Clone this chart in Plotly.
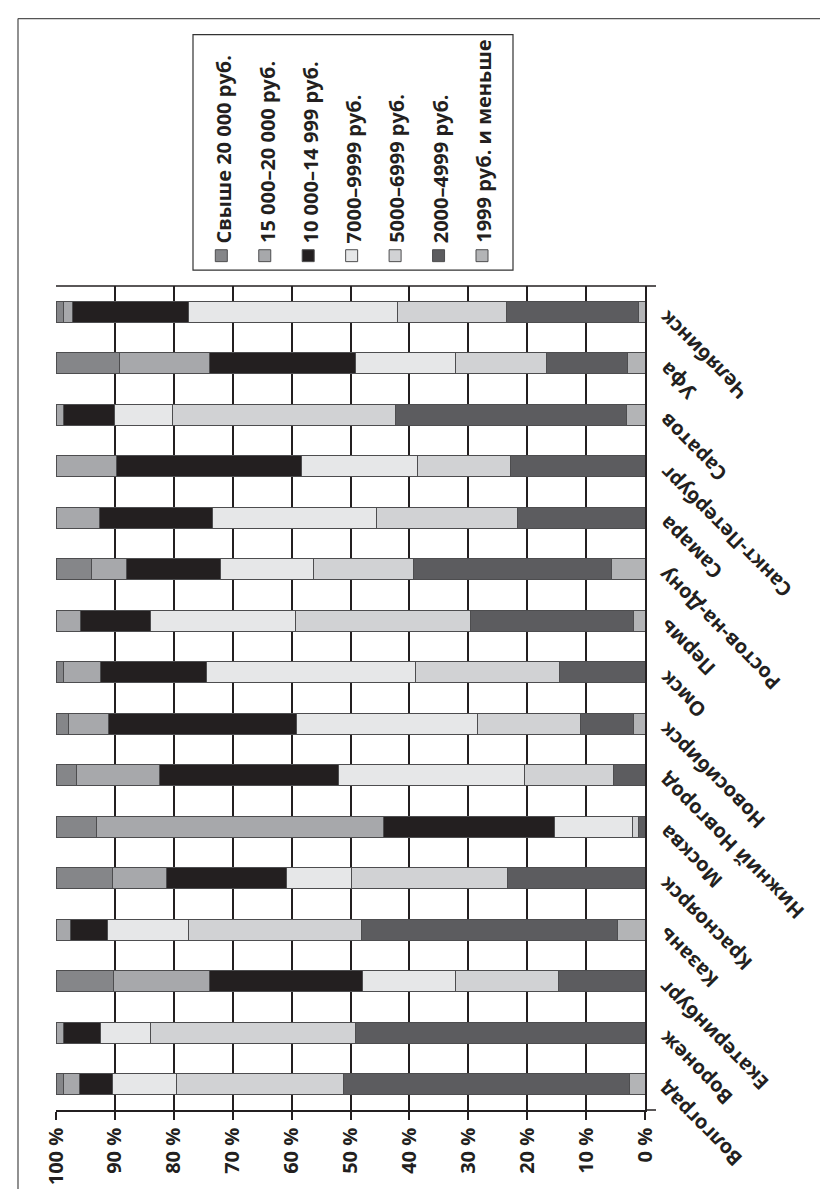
import plotly.graph_objects as go

# ---------------- data ----------------
cities = ["Волгоград", "Воронеж", "Екатеринбург", "Казань", "Красноярск", "Москва",
          "Нижний Новгород", "Новосибирск", "Омск", "Пермь", "Ростов-на-Дону", "Самара",
          "Санкт-Петербург", "Саратов", "Уфа", "Челябинск"]

series_names = ["1999 руб. и меньше", "2000–4999 руб.", "5000–6999 руб.", "7000–9999 руб.",
                "10 000–14 999 руб.", "15 000–20 000 руб.", "Свыше 20 000 руб."]

v_upto_1999 = [2.6, 0, 0, 4.7, 0, 0, 0, 2.0, 0, 2.0, 5.7, 0, 0, 3.2, 2.9, 1.1]
v_2000_4999 = [48.6, 49.2, 14.7, 43.4, 23.3, 1.1, 5.4, 8.9, 14.6, 27.7, 33.6, 21.7, 22.9, 39.1, 13.9, 22.4]
v_5000_6999 = [28.4, 34.8, 17.4, 29.4, 26.6, 1.0, 15.1, 17.6, 24.3, 29.7, 16.9, 23.9, 15.7, 38.0, 15.3, 18.5]
v_7000_9999 = [10.8, 8.5, 15.9, 13.8, 11.0, 13.3, 31.5, 30.6, 35.5, 24.5, 15.9, 27.8, 19.8, 9.8, 17.1, 35.5]
v_10000_14999 = [5.6, 6.3, 26.0, 6.3, 20.4, 29.0, 30.4, 32.0, 18.1, 11.9, 16.0, 19.2, 31.4, 8.6, 24.7, 19.7]
v_15000_20000 = [2.8, 1.2, 16.2, 2.4, 9.1, 48.8, 14.2, 6.7, 6.2, 4.2, 5.9, 7.4, 10.2, 1.3, 15.3, 1.5]
v_over_20000 = [1.2, 0, 9.8, 0, 9.6, 6.8, 3.4, 2.2, 1.3, 0, 6.0, 0, 0, 0, 10.8, 1.3]

series_values = [v_upto_1999, v_2000_4999, v_5000_6999, v_7000_9999,
                 v_10000_14999, v_15000_20000, v_over_20000]

colors = ["#b3b4b6", "#5c5c5f", "#d1d2d4", "#e6e7e8", "#231f20", "#a7a8ab", "#858689"]

tick_vals = [0, 10, 20, 30, 40, 50, 60, 70, 80, 90, 100]
tick_text = ["0 %", "10 %", "20 %", "30 %", "40 %", "50 %", "60 %", "70 %", "80 %", "90 %", "100 %"]

# legend order (left to right in picture)
legend_order = [6, 5, 4, 3, 2, 1, 0]

# ---------------- layout geometry (pixels) ----------------
FIG_W, FIG_H = 828, 1189
ML, MR, MT, MB = 48, 191, 278, 82
PW = FIG_W - ML - MR
PH = FIG_H - MT - MB
INK = "#231f20"
FONT = "Open Sans"


def px_x(px):
    return (px - ML) / PW


def px_y(py):
    return (FIG_H - MB - py) / PH


fig = go.Figure()
for name, vals, col in zip(series_names, series_values, colors):
    fig.add_trace(go.Bar(
        y=cities, x=vals, name=name, orientation="h",
        marker=dict(color=col, line=dict(color="#4d4d4f", width=1)),
        showlegend=False,
    ))

shapes = []
annotations = []

# outer frame (top and left)
shapes.append(dict(type="line", xref="paper", yref="paper",
                   x0=px_x(10), x1=px_x(FIG_W + 5), y0=px_y(9), y1=px_y(9),
                   line=dict(color="#555555", width=1.3)))
shapes.append(dict(type="line", xref="paper", yref="paper",
                   x0=px_x(10), x1=px_x(10), y0=px_y(9), y1=px_y(FIG_H + 5),
                   line=dict(color="#555555", width=1.3)))

# top border of plot and small extensions to the right
shapes.append(dict(type="line", xref="paper", yref="paper",
                   x0=0, x1=px_x(648), y0=1, y1=1,
                   line=dict(color=INK, width=1.5)))
shapes.append(dict(type="line", xref="paper", yref="paper",
                   x0=1, x1=px_x(648), y0=0, y1=0,
                   line=dict(color=INK, width=1.5)))

# legend box
shapes.append(dict(type="rect", xref="paper", yref="paper",
                   x0=px_x(185), x1=px_x(505), y0=px_y(25), y1=px_y(262),
                   line=dict(color="#333333", width=1.2), fillcolor="white"))

leg_x0, leg_dx = 213.3, 43.45
for k, idx in enumerate(legend_order):
    cx = leg_x0 + k * leg_dx
    shapes.append(dict(type="rect", xref="paper", yref="paper",
                       x0=px_x(cx - 6), x1=px_x(cx + 6), y0=px_y(241.5), y1=px_y(253.5),
                       line=dict(color="#4d4d4f", width=1), fillcolor=colors[idx]))
    annotations.append(dict(
        text=series_names[idx], xref="paper", yref="paper",
        x=px_x(cx + 2), y=px_y(237), xanchor="center", yanchor="bottom",
        textangle=-90, showarrow=False,
        font=dict(family=FONT, size=20, color=INK, weight="bold"),
    ))

# category labels (rotated)
for c in cities:
    annotations.append(dict(
        text=c, xref="paper", yref="y", x=1, y=c,
        xanchor="left", yanchor="top", xshift=5, yshift=10,
        textangle=-135, showarrow=False,
        font=dict(family=FONT, size=20, color=INK, weight="bold"),
    ))

fig.update_layout(
    width=FIG_W, height=FIG_H,
    margin=dict(l=ML, r=MR, t=MT, b=MB, pad=0),
    barmode="stack", bargap=0.59,
    paper_bgcolor="white", plot_bgcolor="white",
    font=dict(family=FONT, size=20, color=INK),
    xaxis=dict(range=[100, 0], autorange=False, tickvals=tick_vals, ticktext=tick_text,
               tickangle=-90, showgrid=True, gridcolor=INK, gridwidth=1.5,
               zeroline=False, showline=True, linecolor=INK, linewidth=1.5,
               ticks="outside", ticklen=8, tickwidth=1.5, tickcolor=INK,
               tickfont=dict(family=FONT, size=20, color=INK, weight="bold"),
               fixedrange=True),
    yaxis=dict(side="right", range=[-0.5, len(cities) - 0.5], autorange=False,
               showgrid=False, showline=True, linecolor=INK, linewidth=1.5,
               showticklabels=False, ticks="", zeroline=False,
               categoryorder="array", categoryarray=cities, fixedrange=True),
    shapes=shapes, annotations=annotations,
    showlegend=False,
)

fig.write_html("out.html")
